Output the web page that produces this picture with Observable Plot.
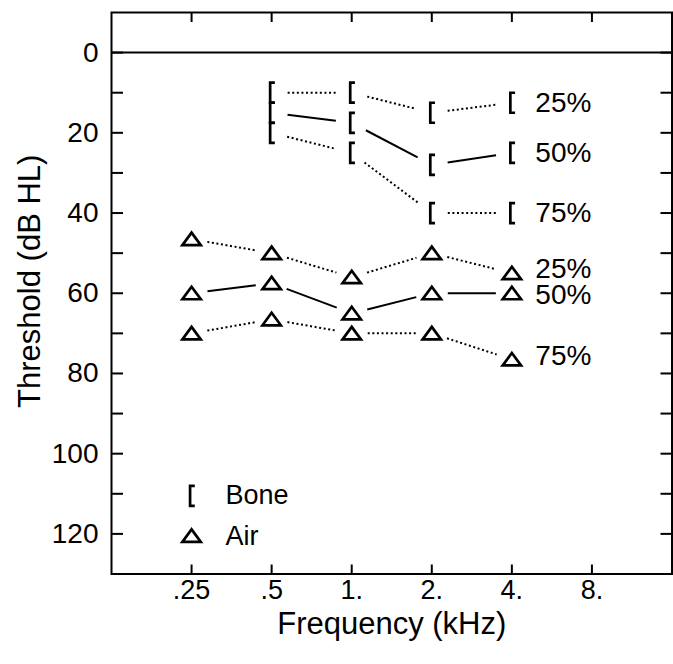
<!DOCTYPE html>
<html><head><meta charset="utf-8">
<script src="https://cdn.jsdelivr.net/npm/d3@7"></script>
<script src="https://cdn.jsdelivr.net/npm/@observablehq/plot@0.6"></script>
<style>body{margin:0;background:#fff;} svg{display:block;}</style>
</head><body><div id="chart"></div>
<script>
// ---- data ----
const boneFreq = [0.5, 1, 2, 4];
const bone25 = [10, 10, 15, 12.5];
const bone50 = [15, 17.5, 28, 25];
const bone75 = [20, 25, 40, 40];
const airFreq = [0.25, 0.5, 1, 2, 4];
const air25 = [46.5, 50, 56, 50, 55];
const air50 = [60, 57.5, 65, 60, 60];
const air75 = [70, 66.5, 70, 70, 76.5];
const percentiles = ["25%", "50%", "75%"];
const boneLabelY = [12.5, 25, 40];
const airLabelY = [54, 60.5, 75.7];
const labelFreq = 4;
const xTicks = [0.25, 0.5, 1, 2, 4, 8];
const xTickLabels = [".25", ".5", "1.", "2.", "4.", "8."];
const yTicks = [0, 20, 40, 60, 80, 100, 120];
const yMinorTicks = [0, 10, 20, 30, 40, 50, 60, 70, 80, 90, 100, 110, 120];
const legendNames = ["Bone", "Air"];
const legendY = [110.5, 120.5];
const legendFreq = 0.25;

// ---- symbols ----
const bracket = {draw(ctx) { ctx.moveTo(3.2, -10); ctx.lineTo(-1.5, -10); ctx.lineTo(-1.5, 10); ctx.lineTo(3.2, 10); }};
const triangle = {draw(ctx) { ctx.moveTo(0, -6.5); ctx.lineTo(9.2, 6); ctx.lineTo(-9.2, 6); ctx.closePath(); }};

const points = (freqs, series, kind) => series.flatMap((vals, i) => vals.map((v, j) => ({freq: freqs[j], db: v, pct: percentiles[i], kind})));
const segs = (freqs, series, kind) => series.flatMap((vals, i) => vals.slice(1).map((v, j) => ({f1: freqs[j], d1: vals[j], f2: freqs[j + 1], d2: v, pct: percentiles[i], kind})));

const bonePts = points(boneFreq, [bone25, bone50, bone75], "bone");
const airPts = points(airFreq, [air25, air50, air75], "air");
const allSegs = [...segs(boneFreq, [bone25, bone50, bone75], "bone"), ...segs(airFreq, [air25, air50, air75], "air")];
const labels = [
  ...percentiles.map((p, i) => ({freq: labelFreq, db: boneLabelY[i], text: p})),
  ...percentiles.map((p, i) => ({freq: labelFreq, db: airLabelY[i], text: p}))
];
const legend = legendNames.map((n, i) => ({freq: legendFreq, db: legendY[i], name: n}));

const segMark = (data, dash) => Plot.arrow(data, {
  x1: "f1", y1: "d1", x2: "f2", y2: "d2",
  headLength: 0,
  inset: 16,
  stroke: "black", strokeWidth: 2, strokeLinecap: "butt",
  strokeDasharray: dash
});

const symStyle = {fill: "none", stroke: "black", strokeWidth: 2.7, strokeLinejoin: "miter"};

const chart = Plot.plot({
  width: 673,
  height: 664,
  marginLeft: 111,
  marginRight: 1.5,
  marginTop: 12,
  marginBottom: 90.5,
  style: {fontFamily: "'Liberation Sans', Arial, Helvetica, sans-serif", fontSize: "28px", color: "black", background: "white"},
  x: {type: "log", base: 2, domain: [0.125, 16], axis: null, label: null},
  y: {domain: [-10, 130], reverse: true, axis: null, label: null},
  marks: [
    Plot.frame({stroke: "black", strokeWidth: 2}),
    Plot.ruleY([0], {stroke: "black", strokeWidth: 2}),
    // inward ticks on all four sides
    Plot.axisY(yMinorTicks, {anchor: "left", tickSize: 12, dx: 12, fill: "none", strokeWidth: 2, label: null}),
    Plot.axisY(yMinorTicks, {anchor: "right", tickSize: 12, dx: -12, fill: "none", strokeWidth: 2, label: null}),
    Plot.axisX(xTicks, {anchor: "bottom", tickSize: 9, dy: -9, fill: "none", strokeWidth: 2, label: null}),
    Plot.axisX(xTicks, {anchor: "top", tickSize: 9, dy: 9, fill: "none", strokeWidth: 2, label: null}),
    // tick labels
    Plot.axisY(yTicks, {anchor: "left", tickSize: 0, tickPadding: 13, fontSize: 28, label: null}),
    Plot.axisX(xTicks, {anchor: "bottom", tickSize: 0, tickPadding: 6, fontSize: 27, label: null,
      tickFormat: d => xTickLabels[xTicks.indexOf(d)]}),
    // axis titles
    Plot.text(["Frequency (kHz)"], {frameAnchor: "bottom", dy: 50, lineAnchor: "middle", fontSize: 31}),
    Plot.text(["Threshold (dB HL)"], {frameAnchor: "left", dx: -81, dy: -12, rotate: -90, lineAnchor: "middle", textAnchor: "middle", fontSize: 31}),
    // connecting lines
    segMark(allSegs.filter(d => d.pct === "50%"), null),
    segMark(allSegs.filter(d => d.pct !== "50%"), "2,2.6"),
    // symbols
    Plot.dot(bonePts, {x: "freq", y: "db", symbol: bracket, ...symStyle}),
    Plot.dot(airPts, {x: "freq", y: "db", symbol: triangle, ...symStyle}),
    // percentile labels
    Plot.text(labels, {x: "freq", y: "db", text: "text", dx: 23.5, textAnchor: "start", fontSize: 28}),
    // legend
    Plot.dot(legend.filter(d => d.name === "Bone"), {x: "freq", y: "db", symbol: bracket, ...symStyle}),
    Plot.dot(legend.filter(d => d.name === "Air"), {x: "freq", y: "db", symbol: triangle, ...symStyle}),
    Plot.text(legend, {x: "freq", y: "db", text: "name", dx: 34, textAnchor: "start", fontSize: 27})
  ]
});
document.getElementById("chart").append(chart);
</script>
</body></html>
